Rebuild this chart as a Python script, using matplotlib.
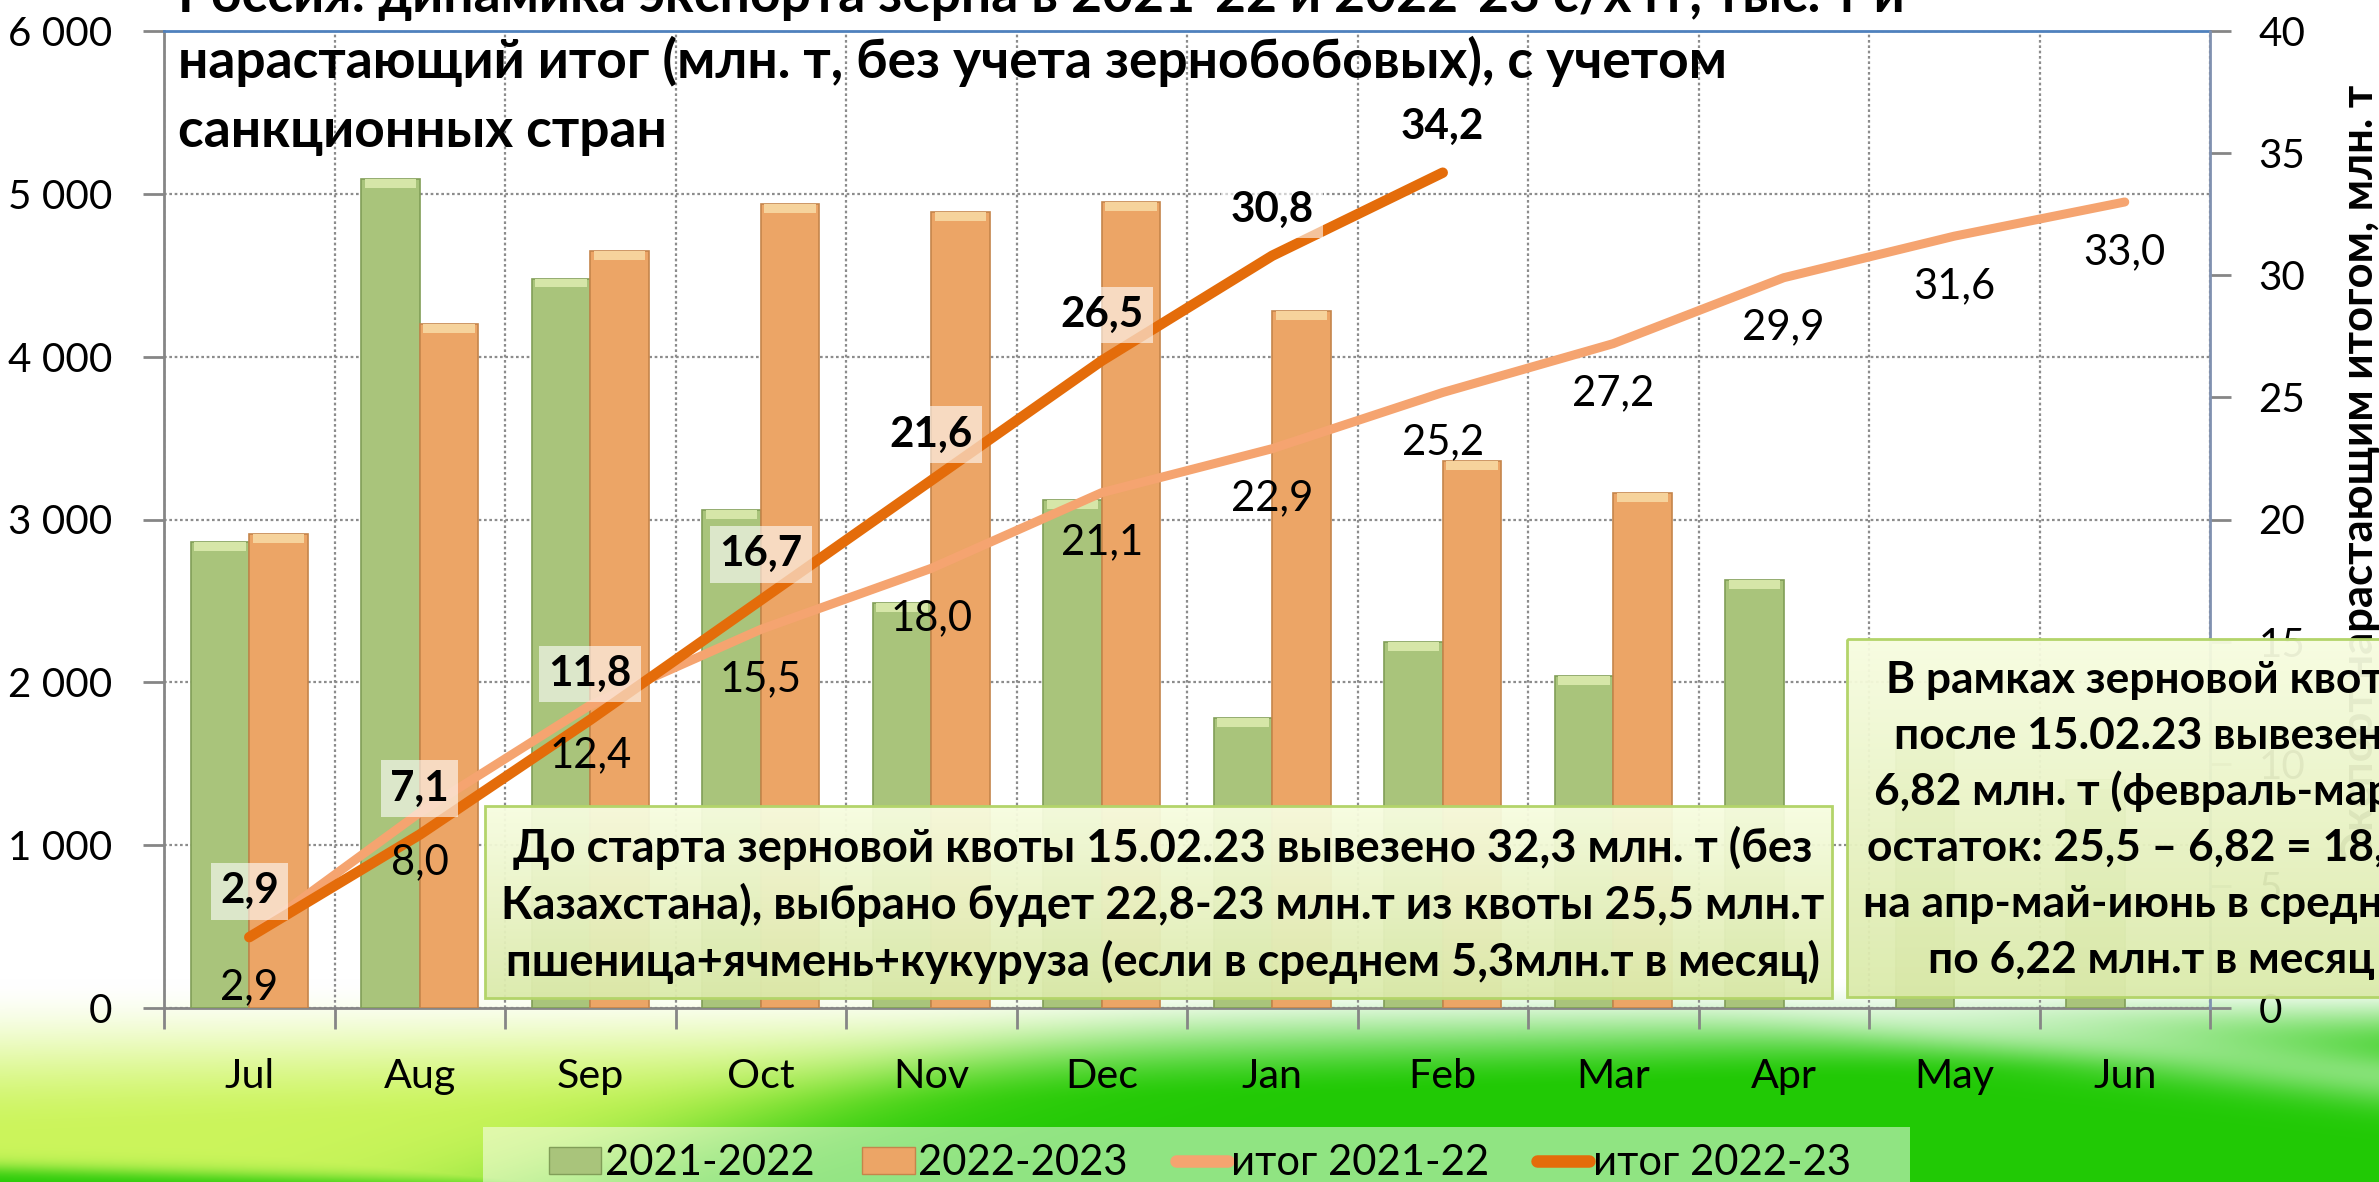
import numpy as np
import matplotlib
matplotlib.use("Agg")
import matplotlib.pyplot as plt
from matplotlib.patches import Patch, Rectangle
from matplotlib.lines import Line2D
from matplotlib.ticker import FuncFormatter, MultipleLocator

# ---------------- data ----------------
months = ['Jul', 'Aug', 'Sep', 'Oct', 'Nov', 'Dec', 'Jan', 'Feb', 'Mar', 'Apr', 'May', 'Jun']
exp_2122 = [2860, 5090, 4480, 3060, 2490, 3120, 1780, 2250, 2040, 2630, 1700, 1400]
exp_2223 = [2910, 4200, 4650, 4940, 4890, 4950, 4280, 3360, 3160]
cum_2122 = [2.9, 8.0, 12.4, 15.5, 18.0, 21.1, 22.9, 25.2, 27.2, 29.9, 31.6, 33.0]
cum_2223 = [2.9, 7.1, 11.8, 16.7, 21.6, 26.5, 30.8, 34.2]
series_names = ['2021-2022', '2022-2023', 'итог 2021-22', 'итог 2022-23']

title_lines = ['Россия: динамика экспорта зерна в 2021-22 и 2022-23 с/х гг, тыс. т и',
               'нарастающий итог (млн. т, без учета зернобобовых), с учетом',
               'санкционных стран']
right_label = 'Экспорт нарастающим итогом, млн. т'
box1_lines = ['До старта зерновой квоты 15.02.23 вывезено 32,3 млн. т (без',
              'Казахстана), выбрано будет 22,8-23 млн.т из квоты 25,5 млн.т',
              'пшеница+ячмень+кукуруза (если в среднем 5,3млн.т в месяц)']
box2_lines = ['В рамках зерновой квоты',
              'после 15.02.23 вывезено',
              '6,82 млн. т (февраль-март)',
              'остаток: 25,5 – 6,82 = 18,68',
              'на апр-май-июнь в среднем',
              'по 6,22 млн.т в месяц']

# ---------------- figure ----------------
plt.rcParams['font.family'] = ['Lato', 'Open Sans', 'DejaVu Sans']
W, H = 2379, 1182
fig = plt.figure(figsize=(W / 100, H / 100), dpi=100, facecolor='white')
R = fig.canvas.get_renderer()


def fit_size(s, target, weight='normal'):
    t = fig.text(0, 0, s, fontsize=30, fontweight=weight)
    w = t.get_window_extent(renderer=R).width
    t.remove()
    return 30 * target / w


fs_tick = fit_size('2 000', 104)
fs_month = fit_size('Sep', 67)
fs_lab = fit_size('22,9', 82)
fs_labb = fit_size('21,6', 83, 'bold')
fs_leg = fit_size('2021-2022', 209)
fs_title = fit_size(title_lines[1], 1546, 'bold')
fs_box1 = fit_size(box1_lines[0], 1297, 'bold')
fs_box2 = fit_size(box2_lines[5], 445, 'bold')
fs_ylab = fit_size('растающим итогом, млн. т', 545, 'bold')

# ---------------- background ----------------
bg = fig.add_axes([0, 0, 1, 1], zorder=-10)
yy, xx = np.mgrid[0:H, 0:W].astype(float)
u = xx / W
t = np.clip((yy - 978) / (155 - 70 * u), 0, 1)
a = t * t * (3 - 2 * t)
xb = 1000 - (yy - 1040) * 3.0
m = 1 / (1 + np.exp(-(xx - xb) / 90))
mb = 1 / (1 + np.exp(-(yy - 1168 - 0.03 * xx) / 5))
m = np.maximum(m, mb)
lime = np.array([0.80, 0.96, 0.36])
green = np.array([0.13, 0.79, 0.02])
col = lime * (1 - m)[..., None] + green * m[..., None]
img = (1 - a)[..., None] + col * a[..., None]
s = 0.45 * np.exp(-((yy - (1005 + 0.12 * (xx - 1800))) / 30) ** 2) / (1 + np.exp(-(xx - 1800) / 60))
img = img * (1 - s[..., None]) + s[..., None]
bg.imshow(np.clip(img, 0, 1), extent=(0, W, H, 0), aspect='auto', interpolation='bilinear')
bg.add_patch(Rectangle((483, 1127), 1427, 80, fc='white', ec='none', alpha=0.5))
bg.set_xlim(0, W)
bg.set_ylim(H, 0)
bg.axis('off')

# ---------------- main axes ----------------
L, Rr, B, T = 164 / W, 2210 / W, (H - 1008) / H, (H - 31) / H
ax = fig.add_axes([L, B, Rr - L, T - B])
ax.patch.set_alpha(0)
x = np.arange(len(months))
bw = 0.343
gcol, gedge, gcap = '#a9c47b', '#819e58', '#d6e6a8'
ocol, oedge, ocap = '#eca566', '#c5854b', '#f6d39c'
v1 = np.array(exp_2122, float)
v2 = np.array(exp_2223, float)
x2 = x[:len(v2)]
ax.bar(x - bw / 2, v1, bw, color=gcol, edgecolor=gedge, lw=1.2, zorder=3)
ax.bar(x2 + bw / 2, v2, bw, color=ocol, edgecolor=oedge, lw=1.2, zorder=3)
cap = 55
ax.bar(x - bw / 2, cap, bw * 0.88, bottom=v1 - cap, color=gcap, lw=0, zorder=3.5)
ax.bar(x2 + bw / 2, cap, bw * 0.88, bottom=v2 - cap, color=ocap, lw=0, zorder=3.5)

ax.set_xlim(-0.5, len(months) - 0.5)
ax.set_ylim(0, 6000)
ax.yaxis.set_major_locator(MultipleLocator(1000))
ax.yaxis.set_major_formatter(FuncFormatter(lambda v, p: f'{int(v):,}'.replace(',', ' ')))
ax.set_xticks(x)
ax.set_xticklabels(months)
ax.set_xticks(np.arange(-0.5, len(months), 1), minor=True)
gridkw = dict(color='#8c8c8c', lw=1.6, ls=(0, (1.2, 1.2)))
ax.grid(axis='y', which='major', **gridkw)
ax.grid(axis='x', which='minor', **gridkw)
ax.set_axisbelow(True)
ax.tick_params(axis='x', which='major', length=0, pad=36, labelsize=fs_month)
ax.tick_params(axis='x', which='minor', length=15, width=2, color='#868686', direction='out')
ax.tick_params(axis='y', length=15, width=2, color='#868686', pad=22, labelsize=fs_tick)
for sp in ['left', 'bottom']:
    ax.spines[sp].set_color('#868686')
    ax.spines[sp].set_linewidth(2)
ax.spines['top'].set_color('#4f81bd')
ax.spines['top'].set_linewidth(2)
ax.spines['top'].set_linestyle((0, (1.5, 1)))
ax.spines['right'].set_visible(False)

ax2 = ax.twinx()
ax2.set_ylim(0, 40)
ax2.yaxis.set_major_locator(MultipleLocator(5))
ax2.tick_params(axis='y', length=15, width=2, color='#868686', pad=20, labelsize=fs_tick)
ax2.spines['right'].set_color('#8091b0')
ax2.spines['right'].set_linewidth(2)
ax2.spines['right'].set_linestyle((0, (1.5, 1)))
for sp in ['left', 'top', 'bottom']:
    ax2.spines[sp].set_visible(False)

lc1, lc2 = '#f5a470', '#e46c0a'
ax2.plot(x, cum_2122, color=lc1, lw=6.5, solid_capstyle='round', solid_joinstyle='round', zorder=3)
ax2.plot(x[:len(cum_2223)], cum_2223, color=lc2, lw=7.5, solid_capstyle='round',
         solid_joinstyle='round', zorder=4)

fmt = lambda v: f'{v:.1f}'.replace('.', ',')
for i, v in enumerate(cum_2122):
    ax2.annotate(fmt(v), (i, v), xytext=(0, -36), textcoords='offset points',
                 ha='center', va='center', fontsize=fs_lab, zorder=6)
for i, v in enumerate(cum_2223):
    ax2.annotate(fmt(v), (i, v), xytext=(0, 33), textcoords='offset points',
                 ha='center', va='center', fontsize=fs_labb, fontweight='bold', zorder=6,
                 bbox=dict(boxstyle='square,pad=0.22', fc='white', ec='none', alpha=0.6))

# ---------------- titles ----------------
for line, base in zip(title_lines, [12, 78, 147]):
    fig.text(178 / W, 1 - base / H, line, ha='left', va='baseline',
             fontsize=fs_title, fontweight='bold')
fig.text(2360 / W, 1 - 85 / H, right_label, rotation=90, ha='center', va='top',
         fontsize=fs_ylab, fontweight='bold')

# ---------------- legend ----------------
handles = [Patch(fc=gcol, ec=gedge), Patch(fc=ocol, ec=oedge),
           Line2D([], [], color=lc1, lw=9, solid_capstyle='round'),
           Line2D([], [], color=lc2, lw=9, solid_capstyle='round')]
fig.legend(handles, series_names, loc='center', bbox_to_anchor=(1200 / W, 1 - 1163 / H),
           ncol=4, frameon=False, fontsize=fs_leg, handlelength=1.25, handleheight=0.6,
           handletextpad=0.08, columnspacing=1.15)

# ---------------- text boxes ----------------
ov = fig.add_axes([0, 0, 1, 1], zorder=5)
ov.patch.set_alpha(0)
ov.axis('off')


def note_box(x0, y0, x1, y1, lines, cx, base0, step, fs):
    g = np.linspace(0, 1, 64)[:, None, None]
    c1 = np.array([0.97, 0.99, 0.88, 0.95])
    c2 = np.array([0.86, 0.92, 0.67, 0.95])
    arr = c1 * (1 - g) + c2 * g
    ov.imshow(arr, extent=(x0, x1, y1, y0), aspect='auto', interpolation='bilinear', zorder=1)
    ov.add_patch(Rectangle((x0, y0), x1 - x0, y1 - y0, fc='none', ec='#b3d46a', lw=2, zorder=2))
    for k, ln in enumerate(lines):
        ov.text(cx, base0 + k * step, ln, ha='center', va='baseline', fontsize=fs,
                fontweight='bold', zorder=3)


note_box(485, 806, 1832, 998, box1_lines, 1163, 862, 57, fs_box1)
note_box(1847, 639, 2470, 997, box2_lines, 2151, 693, 56, fs_box2)
ov.set_xlim(0, W)
ov.set_ylim(H, 0)

fig.savefig('out.png', dpi=100, facecolor='white')
